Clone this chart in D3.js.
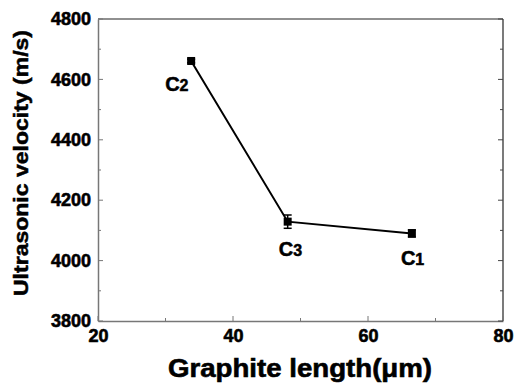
<!DOCTYPE html>
<html>
<head>
<meta charset="utf-8">
<script src="https://cdn.jsdelivr.net/npm/d3@7"></script>
<style>
  body { margin: 0; background: #fff; }
  svg text { font-family: "Liberation Sans", Arial, sans-serif; font-weight: bold; fill: #000; }
</style>
</head>
<body>
<svg id="chart" width="520" height="384"></svg>
<script>
// values
var samples = ["C2", "C3", "C1"];
var lengths = [33.8, 48.1, 66.5];
var velocity = [4661, 4129, 4090];
var errors = [6, 22, 12];
var xTicks = [20, 40, 60, 80];
var yTicks = [3800, 4000, 4200, 4400, 4600, 4800];

var svg = d3.select("#chart");
var margin = {left: 98, top: 19, right: 17, bottom: 63};
var w = 520 - margin.left - margin.right,
    h = 384 - margin.top - margin.bottom;

var x = d3.scaleLinear().domain([20, 80]).range([margin.left, margin.left + w]);
var y = d3.scaleLinear().domain([3800, 4800]).range([margin.top + h, margin.top]);

var g = svg.append("g");

// frame: top and right black, left and bottom grey
g.append("line").attr("x1", x(20)).attr("x2", x(80)).attr("y1", y(4800)).attr("y2", y(4800))
  .attr("stroke", "#222").attr("stroke-width", 1.2);
g.append("line").attr("x1", x(80)).attr("x2", x(80)).attr("y1", y(4800)).attr("y2", y(3800))
  .attr("stroke", "#222").attr("stroke-width", 1.2);

// bottom axis
var xAxis = d3.axisBottom(x).tickValues(xTicks).tickSize(0).tickPadding(8).tickFormat(d3.format("d"));
var gx = g.append("g").attr("transform", "translate(0," + y(3800) + ")").call(xAxis);
gx.select(".domain").attr("stroke", "#777").attr("stroke-width", 1.5);
gx.selectAll("text").attr("font-size", 18).attr("dy", "0.71em")
  .attr("stroke", "#000").attr("stroke-width", 0.6);

// x ticks, inward (major + minor)
var xt = d3.range(20, 81, 10);
g.selectAll(".xtick").data(xt).enter().append("line")
  .attr("x1", function(d) { return x(d); }).attr("x2", function(d) { return x(d); })
  .attr("y1", y(3800)).attr("y2", function(d) { return y(3800) - (d % 20 == 0 ? 5 : 3); })
  .attr("stroke", "#777").attr("stroke-width", 1);

// left axis
var yAxis = d3.axisLeft(y).tickValues(yTicks).tickSize(0).tickPadding(7).tickFormat(d3.format("d"));
var gy = g.append("g").attr("transform", "translate(" + x(20) + ",0)").call(yAxis);
gy.select(".domain").attr("stroke", "#777").attr("stroke-width", 1.5);
gy.selectAll("text").attr("font-size", 18)
  .attr("stroke", "#000").attr("stroke-width", 0.6);

var yt = d3.range(3800, 4801, 100);
g.selectAll(".ytickL").data(yt).enter().append("line")
  .attr("x1", x(20)).attr("x2", function(d) { return x(20) + (d % 200 == 0 ? 5 : 3); })
  .attr("y1", function(d) { return y(d); }).attr("y2", function(d) { return y(d); })
  .attr("stroke", "#777").attr("stroke-width", 1);
g.selectAll(".ytickR").data(yt).enter().append("line")
  .attr("x1", x(80)).attr("x2", function(d) { return x(80) - (d % 200 == 0 ? 5 : 3); })
  .attr("y1", function(d) { return y(d); }).attr("y2", function(d) { return y(d); })
  .attr("stroke", "#444").attr("stroke-width", 1);

// data line
var pts = samples.map(function(s, i) { return {s: s, x: lengths[i], y: velocity[i], e: errors[i]}; });
var line = d3.line().x(function(d) { return x(d.x); }).y(function(d) { return y(d.y); });
g.append("path").datum(pts).attr("d", line)
  .attr("fill", "none").attr("stroke", "#000").attr("stroke-width", 2);

// error bars
var eb = g.selectAll(".err").data(pts).enter().append("g");
eb.append("line")
  .attr("x1", function(d) { return x(d.x); }).attr("x2", function(d) { return x(d.x); })
  .attr("y1", function(d) { return y(d.y - d.e); }).attr("y2", function(d) { return y(d.y + d.e); })
  .attr("stroke", "#000").attr("stroke-width", 1.5);
eb.selectAll(".cap").data(function(d) { return [d.y - d.e, d.y + d.e].map(function(v) { return {x: d.x, v: v}; }); })
  .enter().append("line")
  .attr("x1", function(d) { return x(d.x) - 4; }).attr("x2", function(d) { return x(d.x) + 4; })
  .attr("y1", function(d) { return y(d.v); }).attr("y2", function(d) { return y(d.v); })
  .attr("stroke", "#000").attr("stroke-width", 1.5);

// markers
g.selectAll(".pt").data(pts).enter().append("rect")
  .attr("x", function(d) { return x(d.x) - 4; }).attr("y", function(d) { return y(d.y) - 4; })
  .attr("width", 8).attr("height", 8).attr("fill", "#000");

// sample labels
var labelOff = {C2: [-26, 30], C3: [-9, 34], C1: [-11, 32]};
var lab = g.selectAll(".lab").data(pts).enter().append("text")
  .attr("x", function(d) { return x(d.x) + labelOff[d.s][0]; })
  .attr("y", function(d) { return y(d.y) + labelOff[d.s][1]; })
  .attr("font-size", 20).attr("stroke", "#000").attr("stroke-width", 0.5);
lab.append("tspan").text(function(d) { return d.s.charAt(0); });
lab.append("tspan").attr("font-size", 16).text(function(d) { return d.s.slice(1); });

// axis titles
g.append("text").attr("x", 300).attr("y", 377).attr("text-anchor", "middle")
  .attr("font-size", 25).attr("textLength", 264).attr("lengthAdjust", "spacingAndGlyphs")
  .attr("stroke", "#000").attr("stroke-width", 0.6)
  .text("Graphite length(\u03bcm)");
g.append("text").attr("transform", "translate(28,163) rotate(-90)").attr("text-anchor", "middle")
  .attr("font-size", 21).attr("textLength", 266).attr("lengthAdjust", "spacingAndGlyphs")
  .attr("stroke", "#000").attr("stroke-width", 0.5)
  .text("Ultrasonic velocity (m/s)");
</script>
</body>
</html>
